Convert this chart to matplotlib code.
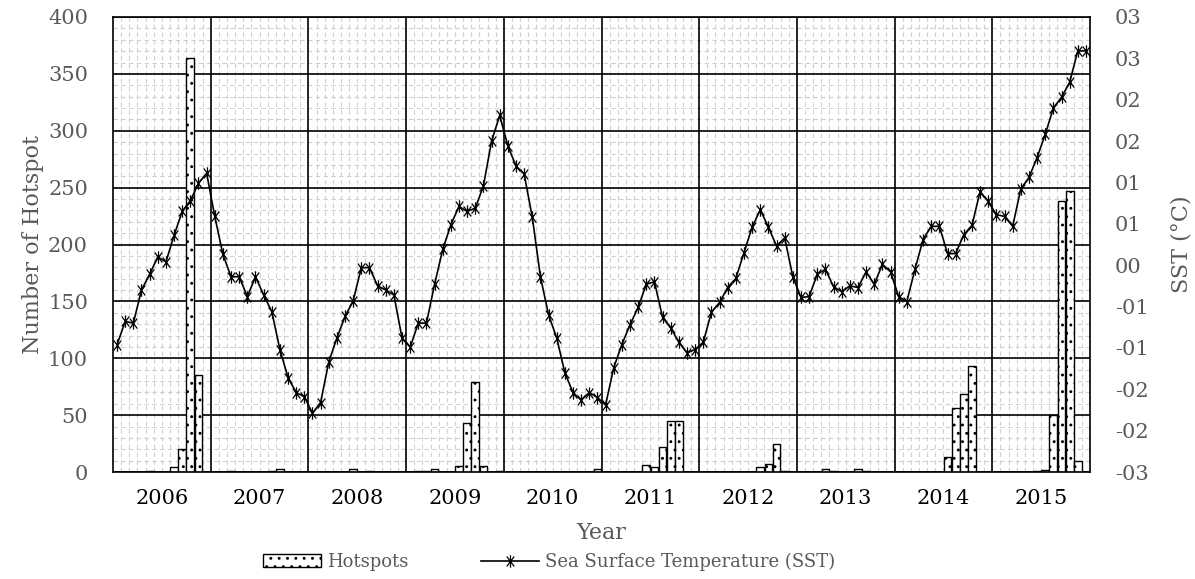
import numpy as np
import matplotlib
matplotlib.use("Agg")
import matplotlib.pyplot as plt
from matplotlib.patches import Patch
from matplotlib.lines import Line2D
from matplotlib.path import Path

plt.rcParams["font.family"] = "DejaVu Serif"
plt.rcParams["hatch.linewidth"] = 0.9

years = [2006, 2007, 2008, 2009, 2010, 2011, 2012, 2013, 2014, 2015]

# monthly hotspot counts, one row per year
hotspots = [
    0, 0, 0, 0, 1, 0, 0, 4, 20, 364, 85, 0,
    0, 0, 1, 0, 0, 0, 0, 1, 3, 0, 0, 0,
    0, 0, 0, 0, 0, 3, 0, 1, 0, 0, 0, 0,
    0, 1, 1, 3, 0, 0, 5, 43, 79, 5, 0, 1,
    0, 0, 0, 0, 0, 0, 0, 0, 0, 0, 0, 3,
    0, 0, 0, 0, 0, 6, 4, 22, 45, 45, 0, 0,
    0, 0, 0, 0, 0, 0, 0, 4, 7, 25, 1, 0,
    0, 0, 0, 3, 1, 0, 0, 3, 1, 0, 0, 0,
    0, 0, 0, 0, 0, 0, 13, 56, 69, 93, 0, 0,
    0, 0, 0, 0, 0, 1, 2, 50, 238, 247, 10, 0,
]

# monthly sea surface temperature, one row per year
sst = [
    -0.096, -0.068, -0.070, -0.030, -0.011, 0.010, 0.004, 0.036, 0.065, 0.078, 0.099, 0.111,
    0.059, 0.013, -0.014, -0.014, -0.038, -0.014, -0.036, -0.056, -0.102, -0.136, -0.154, -0.159,
    -0.179, -0.166, -0.117, -0.088, -0.062, -0.043, -0.003, -0.003, -0.025, -0.030, -0.036, -0.088,
    -0.099, -0.070, -0.070, -0.023, 0.019, 0.049, 0.071, 0.065, 0.069, 0.096, 0.150, 0.181,
    0.144, 0.120, 0.110, 0.058, -0.014, -0.060, -0.088, -0.130, -0.154, -0.163, -0.154, -0.160,
    -0.169, -0.124, -0.096, -0.072, -0.051, -0.023, -0.020, -0.063, -0.076, -0.093, -0.106, -0.102,
    -0.093, -0.057, -0.045, -0.027, -0.016, 0.015, 0.046, 0.067, 0.046, 0.023, 0.033, -0.014,
    -0.039, -0.038, -0.011, -0.005, -0.026, -0.032, -0.025, -0.027, -0.008, -0.023, 0.001, -0.008,
    -0.038, -0.044, -0.005, 0.031, 0.047, 0.047, 0.014, 0.014, 0.037, 0.048, 0.089, 0.077,
    0.061, 0.059, 0.047, 0.092, 0.106, 0.130, 0.158, 0.190, 0.203, 0.221, 0.259, 0.259,
]

sst_ticks = [-0.25, -0.20, -0.15, -0.10, -0.05, 0.0, 0.05, 0.10, 0.15, 0.20, 0.25, 0.30]
sst_labels = ["-03", "-02", "-02", "-01", "-01", "00", "01", "01", "02", "02", "03", "03"]

gray = "#595959"
fs_tick = 15
fs_title = 16

# asterisk marker: vertical stroke plus a steep X
star = Path([(0, -1), (0, 1), (-0.6, -0.8), (0.6, 0.8), (-0.6, 0.8), (0.6, -0.8)],
            [Path.MOVETO, Path.LINETO, Path.MOVETO, Path.LINETO, Path.MOVETO, Path.LINETO])

fig = plt.figure(figsize=(11.95, 5.79), dpi=100)
ax = fig.add_axes([113 / 1195, 107 / 579, 977 / 1195, 455 / 579])

n = len(hotspots)
x = np.arange(n) + 0.5
ax.bar(x, hotspots, width=0.95, color="white", edgecolor="black",
       linewidth=1.0, hatch="..", zorder=2)

ax.set_xlim(0, n)
ax.set_ylim(0, 400)
ax.set_yticks(np.arange(0, 401, 50))
ax.set_yticks([v for v in range(0, 401, 10) if v % 50], minor=True)
ax.set_xticks(np.arange(0, n + 1, 12))
ax.set_xticks([m for m in range(n + 1) if m % 12], minor=True)
ax.set_xticklabels([])
ax.grid(which="minor", color="#cfcfcf", linewidth=0.8, linestyle=(0, (4, 3)))
ax.yaxis.grid(which="major", color="black", linewidth=1.2)
ax.set_axisbelow(True)
# year separators, solid, above the dashed minor grid
for k in range(1, len(years)):
    ax.axvline(12 * k, color="black", linewidth=1.2, zorder=1)
ax.tick_params(which="both", length=0)
ax.tick_params(axis="y", labelsize=fs_tick, labelcolor=gray, pad=18)
for s in ax.spines.values():
    s.set_color("black")
    s.set_linewidth(1.2)

for k, yr in enumerate(years):
    ax.text(12 * k + 6, -0.037, str(yr), transform=ax.get_xaxis_transform(),
            ha="center", va="top", fontsize=fs_tick, color="black")

ax.set_ylabel("Number of Hotspot", fontsize=fs_title, color=gray, labelpad=3)
ax.text(0.5, -0.11, "Year", transform=ax.transAxes, ha="center", va="top",
        fontsize=fs_title, color=gray)

ax2 = ax.twinx()
ax2.plot(x, sst, color="black", linewidth=1.2, marker=star,
         markersize=9, markeredgewidth=0.9, zorder=3)
ax2.set_ylim(-0.25, 0.30)
ax2.set_yticks(sst_ticks)
ax2.set_yticklabels(sst_labels)
ax2.tick_params(which="both", length=0)
ax2.tick_params(axis="y", labelsize=fs_tick, labelcolor=gray, pad=18)
ax2.set_ylabel("SST (°C)", fontsize=fs_title, color=gray, labelpad=16)
for s in ax2.spines.values():
    s.set_visible(False)

handles = [
    Patch(facecolor="white", edgecolor="black", hatch="..", label="Hotspots"),
    Line2D([0], [0], color="black", linewidth=1.2, marker=star,
           markersize=9, markeredgewidth=0.9, label="Sea Surface Temperature (SST)"),
]
leg = fig.legend(handles=handles, loc="center", bbox_to_anchor=(549 / 1195, 1 - 562 / 579),
                 ncol=2, frameon=False, fontsize=13, handlelength=3.2,
                 handletextpad=0.35, columnspacing=4.0)
for t in leg.get_texts():
    t.set_color(gray)

fig.savefig("out.png", dpi=100)
